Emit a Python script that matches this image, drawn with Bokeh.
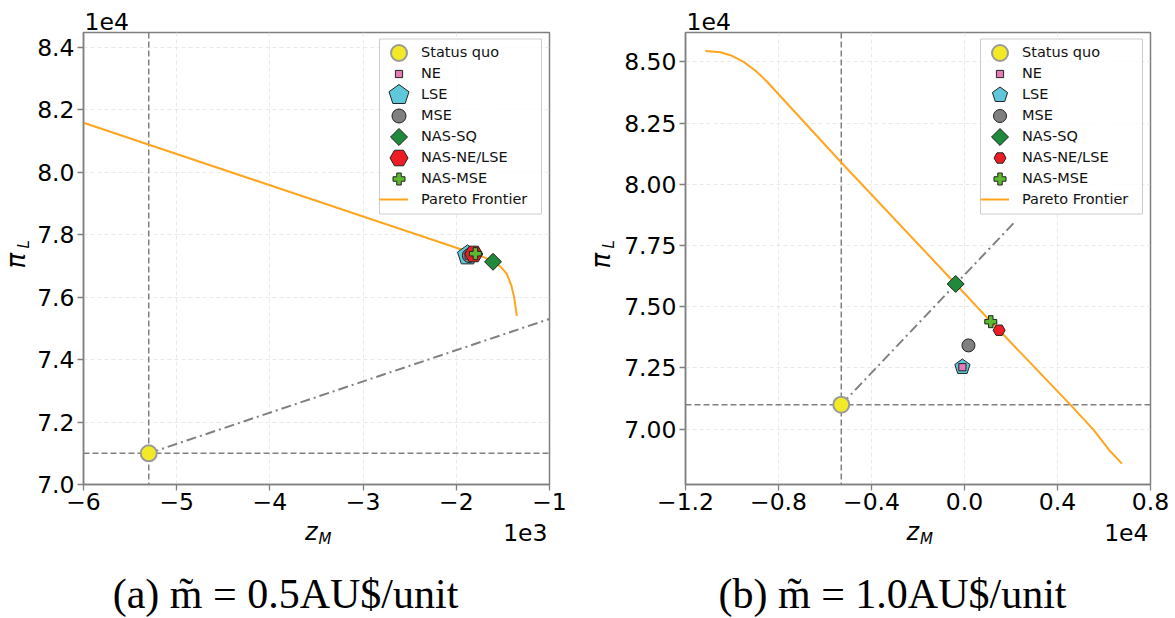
import numpy as np
from bokeh.plotting import figure
from bokeh.models import Range1d, FixedTicker, Label, Span, Legend, LegendItem
from bokeh.layouts import row
from bokeh.embed import file_html
from bokeh.resources import INLINE

# ---------------- data ----------------
point_names = ["Status quo", "NE", "LSE", "MSE", "NAS-SQ", "NAS-NE/LSE", "NAS-MSE"]
frontier_name = "Pareto Frontier"

# panel (a): m~ = 0.5 AU$/unit   (z_M and pi_L in plain units)
a_point_z = [-5300, -1867, -1880, -1860, -1606, -1813, -1795]
a_point_pi = [71000, 77330, 77335, 77330, 77130, 77380, 77390]
a_frontier_z = [-6000, -4000, -2000, -1800, -1700, -1600, -1520, -1460, -1410, -1380, -1365, -1350]
a_frontier_pi = [81580, 79580, 77580, 77380, 77270, 77140, 76960, 76750, 76380, 76000, 75700, 75400]
a_ray_z = [-5300, -1000]
a_ray_pi = [71000, 75300]
a_xlim = [-6000, -1000]
a_ylim = [70000, 84470]
a_xticks = [-6000, -5000, -4000, -3000, -2000, -1000]
a_xtick_labels = ["\u22126", "\u22125", "\u22124", "\u22123", "\u22122", "\u22121"]
a_yticks = [70000, 72000, 74000, 76000, 78000, 80000, 82000, 84000]
a_ytick_labels = ["7.0", "7.2", "7.4", "7.6", "7.8", "8.0", "8.2", "8.4"]
a_x_mult, a_y_mult = "1e3", "1e4"
a_caption = "(a) m\u0303 = 0.5AU$/unit"

# panel (b): m~ = 1.0 AU$/unit
b_point_z = [-5300, -90, -90, 170, -380, 1490, 1130]
b_point_pi = [71000, 72530, 72540, 73420, 75930, 74040, 74390]
b_frontier_z = [-11140, -10500, -10000, -9500, -9000, -8500, -5300, -380, 1130, 1490, 4570, 5550, 6210, 6770]
b_frontier_pi = [85440, 85390, 85250, 85000, 84650, 84200, 80890, 75930, 74390, 74040, 70980, 69970, 69160, 68590]
b_ray_z = [-5300, 2200]
b_ray_pi = [71000, 78500]
b_xlim = [-12000, 8000]
b_ylim = [67740, 86200]
b_xticks = [-12000, -8000, -4000, 0, 4000, 8000]
b_xtick_labels = ["\u22121.2", "\u22120.8", "\u22120.4", "0.0", "0.4", "0.8"]
b_yticks = [70000, 72500, 75000, 77500, 80000, 82500, 85000]
b_ytick_labels = ["7.00", "7.25", "7.50", "7.75", "8.00", "8.25", "8.50"]
b_x_mult, b_y_mult = "1e4", "1e4"
b_caption = "(b) m\u0303 = 1.0AU$/unit"

# ---------------- styles ----------------
marker_shape = ["circle", "square", "pentagon", "circle", "square", "hex", "plus"]
marker_angle = [0, 0, 0, 0, np.pi / 4, 0, 0]
marker_fill = ["#f2ea26", "#e57ab8", "#5ec8da", "#808080", "#1f8a3c", "#ee1c24", "#5cb82e"]
marker_edge = ["#9a9a9a", "#222222", "#222222", "#222222", "#222222", "#222222", "#222222"]
marker_edge_w = [2, 1, 1, 1, 1, 1, 1]
a_marker_size = [16, 7.2, 21, 14, 12, 18, 12]
b_marker_size = [16, 7.2, 16, 13, 12, 12, 12]
draw_order = [0, 2, 3, 1, 4, 5, 6]

FRONT_COLOR = "#ffa51e"
GRAY = "#808080"
TICK_FONT = "DejaVu Sans"
TICK_PX = 23.5
BASE_K = 0.33  # correction of the label baseline, in em

# legend geometry (screen px inside the frame)
LG_GW, LG_GH, LG_SP, LG_PAD, LG_STAND = 29, 18, 3, 5, 13
LG_W = 162
LG_H = 8 * LG_GH + 7 * LG_SP + 2 * LG_PAD
LG_TEXT_FIX = 5.5


def draw_marker(p, i, xs, ys, size, **kw):
    common = dict(fill_color=marker_fill[i], line_color=marker_edge[i],
                  line_width=marker_edge_w[i], **kw)
    if marker_shape[i] == "pentagon":
        return p.ngon(x=xs, y=ys, radius=size / 2, radius_units="screen", n=5,
                      angle=0, **common)
    return p.scatter(x=xs, y=ys, marker=marker_shape[i], size=size,
                     angle=marker_angle[i], **common)


def make_panel(pz, ppi, fz, fpi, rz, rpi, xlim, ylim, xt, xtl, yt, ytl,
               xm, ym, caption, sizes, fw, fh, bl, br, ylab_dx, cap_dx, side):
    p = figure(frame_width=fw, frame_height=fh, min_border_left=bl, min_border_right=br,
               min_border_top=32, min_border_bottom=134,
               x_range=Range1d(*xlim), y_range=Range1d(*ylim),
               output_backend="svg", toolbar_location=None,
               background_fill_color="white", border_fill_color="white")
    p.extra_x_ranges = {"px": Range1d(0, fw)}
    p.extra_y_ranges = {"px": Range1d(0, fh)}

    # axes
    for ax, ticks, labels in ((p.xaxis, xt, xtl), (p.yaxis, yt, ytl)):
        ax.ticker = FixedTicker(ticks=ticks)
        ax.major_label_overrides = dict(zip(ticks, labels))
        ax.major_label_text_font = TICK_FONT
        ax.major_label_text_font_size = f"{TICK_PX}px"
        ax.major_label_text_color = "#000000"
        ax.axis_line_color = GRAY
        ax.axis_line_width = 1.5
        ax.major_tick_line_color = GRAY
        ax.major_tick_line_width = 1.3
        ax.major_tick_out = 6
        ax.major_tick_in = 0
        ax.minor_tick_line_color = None
    p.xaxis.major_label_standoff = 2
    p.yaxis.major_label_standoff = 3
    p.outline_line_color = GRAY
    p.outline_line_width = 1.5
    p.grid.grid_line_color = "#e3e3e3"
    p.grid.grid_line_dash = "4 3"
    p.grid.grid_line_width = 0.8

    # status-quo reference lines
    p.add_layout(Span(location=pz[0], dimension="height", line_color=GRAY,
                      line_dash="6 3", line_width=1.5, level="underlay"))
    p.add_layout(Span(location=ppi[0], dimension="width", line_color=GRAY,
                      line_dash="6 3", line_width=1.5, level="underlay"))

    # ray and frontier
    p.line(rz, rpi, line_color=GRAY, line_width=2, line_dash="10 4 2 4")
    front = p.line(fz, fpi, line_color=FRONT_COLOR, line_width=2)

    # points
    for i in draw_order:
        draw_marker(p, i, [pz[i]], [ppi[i]], sizes[i])

    # legend: box + full-size markers drawn as glyphs, labels by a Legend
    lx = fw - 8 - LG_W
    ly = fh - 6.5 - LG_H
    p.quad(left=[lx], right=[lx + LG_W], bottom=[ly], top=[ly + LG_H],
           fill_color="white", fill_alpha=0.8, line_color="#cccccc", line_width=1,
           x_range_name="px", y_range_name="px")
    gx = lx + LG_PAD + LG_GW / 2
    for i in range(len(point_names)):
        gy = ly + LG_H - LG_PAD - LG_GH / 2 - i * (LG_GH + LG_SP)
        draw_marker(p, i, [gx], [gy], sizes[i], x_range_name="px", y_range_name="px")
    ghost = p.scatter(x=[pz[0]], y=[ppi[0]], size=1, fill_alpha=0, line_alpha=0)
    items = [LegendItem(label=name, renderers=[ghost]) for name in point_names]
    items.append(LegendItem(label=frontier_name, renderers=[front]))
    leg = Legend(items=items, location=(lx, ly + LG_TEXT_FIX), glyph_width=LG_GW,
                 glyph_height=LG_GH, label_height=LG_GH, spacing=LG_SP, padding=LG_PAD,
                 label_standoff=LG_STAND, margin=0, border_line_color=None,
                 background_fill_alpha=0, label_text_font=TICK_FONT,
                 label_text_font_size="14.5px", label_text_color="#111111")
    p.add_layout(leg)

    # texts outside the frame, placed in side panels (so they are not clipped)
    xmid = (xlim[0] + xlim[1]) / 2
    ymid = (ylim[0] + ylim[1]) / 2

    def text(key, x, y, s, px, dx, dy, align="left", angle=0.0, style="normal",
             font=TICK_FONT):
        if angle:
            dx -= BASE_K * px
        else:
            dy += BASE_K * px
        lab = Label(x=x, y=y, text=s, text_align=align, text_baseline="alphabetic",
                    angle=angle, x_offset=dx, y_offset=dy, text_font=font,
                    text_font_size=f"{px}px", text_font_style=style, text_color="#000000")
        p.add_layout(lab, side[key])

    text("ymult", xlim[0], ylim[1], ym, TICK_PX, 1, 3.5)
    text("xmult", xlim[1], ylim[0], xm, TICK_PX, -2, -55.7, align="right")
    text("z", xmid, ylim[0], "z", 24, 1, -55.7, align="right", style="italic")
    text("M", xmid, ylim[0], "M", 15, 2, -59.5, style="italic")
    text("pi", xlim[0], ymid, "\u03c0", 26, ylab_dx, -10, angle=np.pi / 2, style="italic")
    text("L", xlim[0], ymid, "L", 15, ylab_dx + 4, 10, angle=np.pi / 2, style="italic")
    text("cap", xlim[0], ylim[0], caption, 42, cap_dx, -123, align="center",
         font="Liberation Serif")
    return p


side_a = {"ymult": "above", "xmult": "below", "cap": "below", "pi": "below",
          "L": "left", "z": "right", "M": "right"}
side_b = {"ymult": "above", "xmult": "below", "cap": "below", "pi": "below",
          "L": "left", "M": "left", "z": "right"}

pa = make_panel(a_point_z, a_point_pi, a_frontier_z, a_frontier_pi, a_ray_z, a_ray_pi,
                a_xlim, a_ylim, a_xticks, a_xtick_labels, a_yticks, a_ytick_labels,
                a_x_mult, a_y_mult, a_caption, a_marker_size,
                fw=466, fh=452, bl=83, br=32, ylab_dx=-59, cap_dx=202, side=side_a)
pb = make_panel(b_point_z, b_point_pi, b_frontier_z, b_frontier_pi, b_ray_z, b_ray_pi,
                b_xlim, b_ylim, b_xticks, b_xtick_labels, b_yticks, b_ytick_labels,
                b_x_mult, b_y_mult, b_caption, b_marker_size,
                fw=465, fh=452, bl=104, br=25, ylab_dx=-76, cap_dx=207, side=side_b)

layout = row(pa, pb)
open("out.html", "w").write(file_html(layout, INLINE))
